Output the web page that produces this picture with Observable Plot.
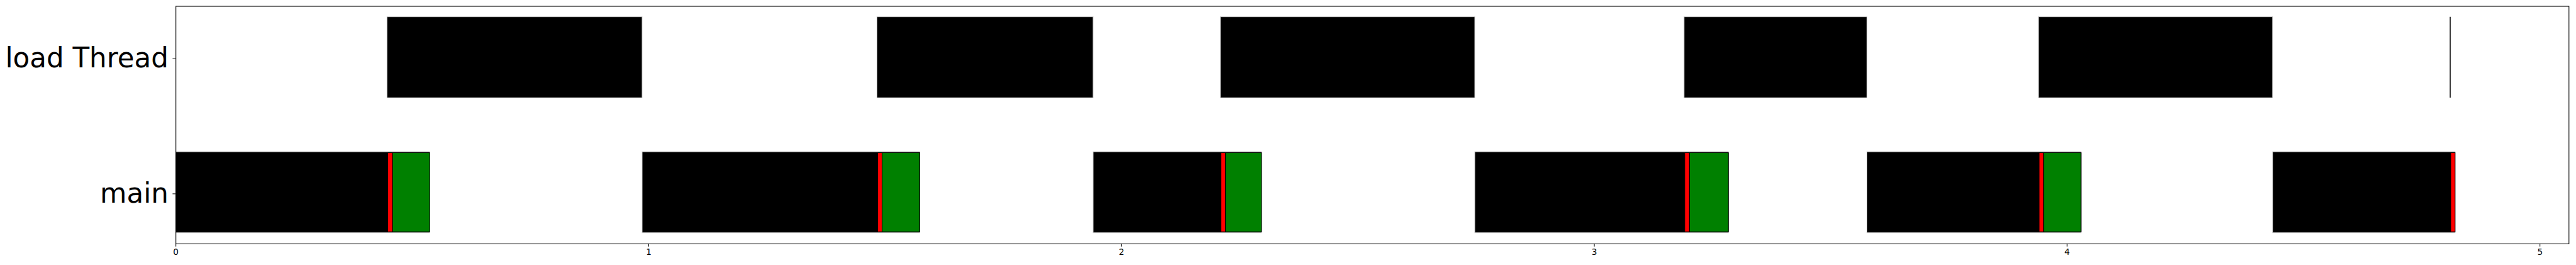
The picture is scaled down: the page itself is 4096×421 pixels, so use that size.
<!DOCTYPE html>
<html>
<head>
<meta charset="utf-8">
<script src="https://cdn.jsdelivr.net/npm/d3@7"></script>
<script src="https://cdn.jsdelivr.net/npm/@observablehq/plot@0.6"></script>
<style>
  html, body { margin: 0; padding: 0; background: #fff; }
  #chart svg { display: block; }
</style>
</head>
<body>
<div id="chart"></div>
<script>
// Categories (threads)
const threads = ["load Thread", "main"];
const xTicks = [0, 1, 2, 3, 4, 5];

// main thread: overall busy segments (black)
const mainStart = [0, 0.9867, 1.9405, 2.7478, 3.5772, 4.4353];
const mainEnd   = [0.5374, 1.5739, 2.2968, 3.2842, 4.0301, 4.8212];
// main thread: red segments
const redStart  = [0.4485, 1.4847, 2.2109, 3.1918, 3.9412, 4.8119];
const redEnd    = [0.4590, 1.4943, 2.2205, 3.2019, 3.9511, 4.8212];
// main thread: green segments (start where red ends)
const greenStart = [0.4590, 1.4943, 2.2205, 3.2019, 3.9511];
const greenEnd   = [0.5374, 1.5739, 2.2968, 3.2842, 4.0301];
// load thread segments (black)
const loadStart = [0.4472, 1.4834, 2.2096, 3.1905, 3.9399, 4.8101];
const loadEnd   = [0.9867, 1.9405, 2.7478, 3.5772, 4.4353, 4.8101];

const mainBlack = mainStart.map((s, i) => ({x1: s, x2: mainEnd[i], y: "main"}));
const mainRed = redStart.map((s, i) => ({x1: s, x2: redEnd[i], y: "main"}));
const mainGreen = greenStart.map((s, i) => ({x1: s, x2: greenEnd[i], y: "main"}));
const load = loadStart.map((s, i) => ({x1: s, x2: loadEnd[i], y: "load Thread"}));
const loadBars = load.filter(d => d.x2 > d.x1);
const loadZero = load.filter(d => d.x2 <= d.x1);

const chart = Plot.plot({
  width: 4096,
  height: 421,
  marginLeft: 279.2,
  marginRight: 11.7,
  marginTop: 9.5,
  marginBottom: 34.1,
  style: {fontFamily: "'DejaVu Sans', sans-serif", color: "black", background: "white"},
  x: {domain: [0, 5.0613], label: null},
  y: {type: "band", domain: threads, paddingInner: 0.4, paddingOuter: 0.08, align: 0.5, round: false, label: null},
  marks: [
    Plot.barX(loadBars, {x1: "x1", x2: "x2", y: "y", fill: "black", stroke: "#cccccc", strokeWidth: 1}),
    Plot.tickX(loadZero, {x: "x1", y: "y", stroke: "black", strokeWidth: 1.6}),
    Plot.barX(mainBlack, {x1: "x1", x2: "x2", y: "y", fill: "black", stroke: "#cccccc", strokeWidth: 1}),
    Plot.barX(mainRed, {x1: "x1", x2: "x2", y: "y", fill: "#ff0000", stroke: "black", strokeWidth: 1, insetTop: 1.5, insetBottom: 1.5}),
    Plot.barX(mainGreen, {x1: "x1", x2: "x2", y: "y", fill: "#008000", stroke: "black", strokeWidth: 1, insetTop: 1.5, insetBottom: 1.5}),
    Plot.axisY({tickSize: 4.8, tickPadding: 7, fontSize: 43.6, dy: 2, label: null}),
    Plot.axisX({ticks: xTicks, tickFormat: d => String(d), tickSize: 4.8, tickPadding: 3.5, fontSize: 13.6, label: null}),
    Plot.frame({stroke: "black", strokeWidth: 1.1})
  ]
});
document.getElementById("chart").appendChild(chart);
</script>
</body>
</html>
